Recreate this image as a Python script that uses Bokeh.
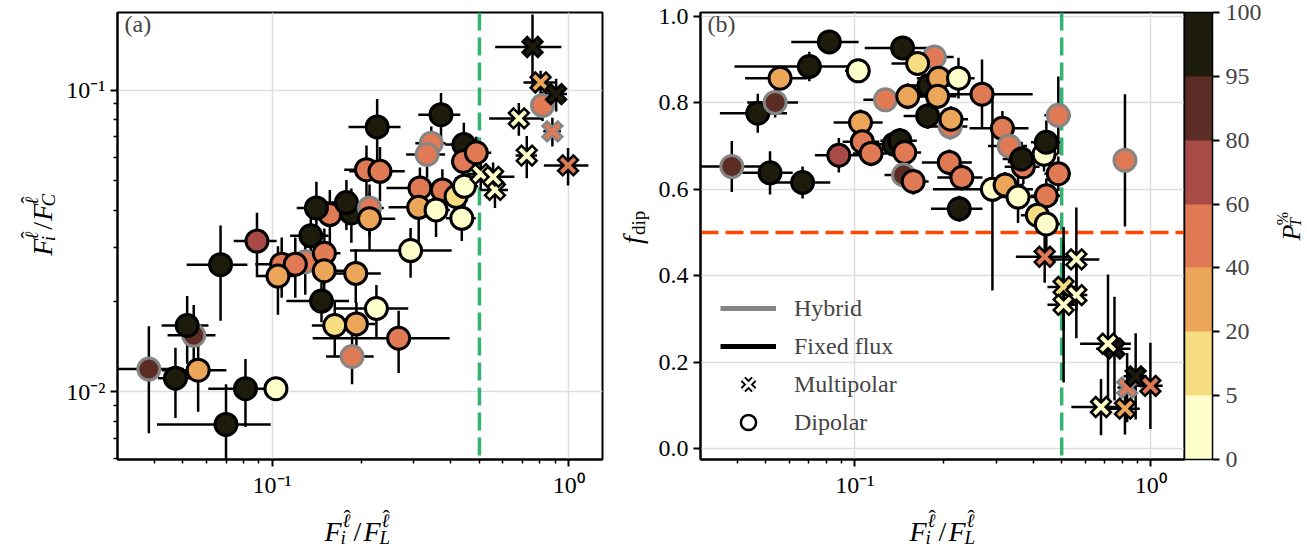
import numpy as np
from bokeh.plotting import figure
from bokeh.models import (Range1d, FixedTicker, CustomJSTickFormatter, PrintfTickFormatter,
                          Span, Label, ColorBar, LinearColorMapper, Legend, LegendItem)
from bokeh.layouts import row, column
from bokeh.core.properties import value
from bokeh.embed import file_html
from bokeh.resources import INLINE

FONT = "Liberation Serif"

# ---------------- colour scale (P_T %) ----------------
CB_BOUNDS = [0, 5, 20, 40, 60, 80, 95, 100]
CB_LABELS = [str(b) for b in CB_BOUNDS]
CB_COLORS = ["#ffffcc", "#f7dd82", "#eba65a", "#df7a55", "#a84b46", "#5c2d24", "#1d1b0b"]
HYB_EDGE = "#858585"
FIX_EDGE = "#000000"
GREEN = "#33b46e"
ORANGE = "#ff4500"

# ---------------- panel (a): dipolar ----------------
A_DIP_X = [0.0544, 0.0517, 0.0384, 0.0472, 0.0563, 0.0813, 0.103, 0.0699, 0.067, 0.0889,
           0.1293, 0.1077, 0.1197, 0.150, 0.1046, 0.1498, 0.1914, 0.1467, 0.2247, 0.1626,
           0.1924, 0.267, 0.186, 0.293, 0.135, 0.1565, 0.185, 0.141, 0.178, 0.213,
           0.213, 0.208, 0.231, 0.226, 0.344, 0.333, 0.371, 0.315, 0.375, 0.312,
           0.357, 0.417, 0.436, 0.445, 0.443, 0.442, 0.488, 0.816]
A_DIP_Y = [0.0154, 0.0166, 0.0119, 0.0111, 0.0118, 0.01025, 0.01025, 0.0078, 0.0264, 0.0316,
           0.0270, 0.0265, 0.0265, 0.0288, 0.0242, 0.0252, 0.0247, 0.0200, 0.0189, 0.0166,
           0.0168, 0.01506, 0.0131, 0.0294, 0.0329, 0.0387, 0.0392, 0.0407, 0.0424, 0.0407,
           0.0375, 0.0545, 0.0538, 0.0755, 0.0667, 0.0612, 0.0829, 0.0474, 0.0467, 0.0409,
           0.0401, 0.0444, 0.0376, 0.0480, 0.0660, 0.0580, 0.0620, 0.089]
A_DIP_XERR = [0.010, 0.0093, 0.012, 0.006, 0.0138, 0.0204, 0.004, 0.029, 0.0155, 0.0147,
              0.020, 0.020, 0.020, 0.020, 0.015, 0.025, 0.041, 0.035, 0.063, 0.0265,
              0.030, 0.130, 0.034, 0.110, 0.020, 0.020, 0.025, 0.020, 0.025, 0.025,
              0.047, 0.033, 0.049, 0.045, 0.040, 0.050, 0.060, 0.072, 0.050, 0.065,
              0.040, 0.040, 0.050, 0.050, 0.060, 0.040, 0.060, 0.050]
A_DIP_YERR = [0.004, 0.0042, 0.0046, 0.0029, 0.0032, 0.0026, 0.0008, 0.0028, 0.0092, 0.0076,
              0.006, 0.006, 0.006, 0.006, 0.0062, 0.006, 0.005, 0.003, 0.0037, 0.0034,
              0.003, 0.0035, 0.0025, 0.0055, 0.007, 0.008, 0.008, 0.009, 0.008, 0.008,
              0.008, 0.011, 0.011, 0.018, 0.009, 0.010, 0.015, 0.008, 0.008, 0.010,
              0.0075, 0.007, 0.006, 0.007, 0.012, 0.008, 0.008, 0.010]
A_DIP_PT = [88, 98, 88, 98, 30, 98, 2, 98, 98, 70,
            50, 50, 50, 50, 30, 30, 30, 98, 2, 10,
            30, 50, 50, 2, 98, 50, 98, 98, 98, 50,
            30, 50, 50, 98, 50, 50, 98, 50, 50, 30,
            2, 10, 2, 2, 98, 50, 50, 50]
A_DIP_HYB = [1, 0, 1, 0, 0, 0, 0, 0, 0, 0,
             1, 0, 0, 0, 0, 0, 0, 0, 0, 0,
             0, 0, 1, 0, 0, 0, 0, 0, 0, 1,
             0, 0, 0, 0, 1, 1, 0, 0, 0, 0,
             0, 0, 0, 0, 0, 0, 0, 1]

# ---------------- panel (a): multipolar ----------------
A_MUL_X = [0.505, 0.564, 0.556, 0.722, 0.679, 0.881, 0.995, 0.804, 0.907, 0.755]
A_MUL_Y = [0.0527, 0.0467, 0.0516, 0.0607, 0.0806, 0.073, 0.0563, 0.106, 0.097, 0.139]
A_MUL_XERR = [0.05, 0.06, 0.10, 0.06, 0.14, 0.06, 0.17, 0.10, 0.08, 0.19]
A_MUL_YERR = [0.006, 0.006, 0.006, 0.0097, 0.010, 0.008, 0.008, 0.010, 0.012, 0.039]
A_MUL_PT = [2, 2, 2, 2, 2, 50, 50, 30, 98, 98]
A_MUL_HYB = [0, 0, 0, 0, 0, 1, 0, 0, 0, 0]

# ---------------- panel (b): dipolar ----------------
B_DIP_X = [0.0384, 0.0517, 0.0666, 0.047, 0.0538, 0.0559, 0.0702, 0.082, 0.1027, 0.0883,
           0.1045, 0.106, 0.1135, 0.1358, 0.142, 0.1475, 0.146, 0.1575, 0.178, 0.145,
           0.1857, 0.163, 0.192, 0.224, 0.1269, 0.151, 0.1904, 0.1762, 0.210, 0.2113,
           0.269, 0.3152, 0.332, 0.2085, 0.230, 0.2254, 0.2917, 0.322, 0.356, 0.371,
           0.366, 0.4359, 0.4437, 0.487, 0.4437, 0.487, 0.4139, 0.4437, 0.818]
B_DIP_Y = [0.6525, 0.638, 0.6156, 0.776, 0.801, 0.857, 0.884, 0.941, 0.874, 0.6786,
           0.7545, 0.710, 0.683, 0.7043, 0.712, 0.685, 0.633, 0.618, 0.840, 0.927,
           0.906, 0.891, 0.857, 0.857, 0.807, 0.815, 0.815, 0.7696, 0.745, 0.762,
           0.820, 0.741, 0.700, 0.662, 0.627, 0.5547, 0.5998, 0.6097, 0.5818, 0.652,
           0.670, 0.681, 0.7088, 0.771, 0.585, 0.636, 0.540, 0.5196, 0.667]
B_DIP_XERR = [0.012, 0.010, 0.016, 0.012, 0.0105, 0.0133, 0.031, 0.021, 0.010, 0.015,
              0.0197, 0.015, 0.015, 0.020, 0.020, 0.020, 0.020, 0.020, 0.030, 0.037,
              0.030, 0.030, 0.030, 0.030, 0.020, 0.025, 0.030, 0.030, 0.030, 0.030,
              0.130, 0.071, 0.050, 0.040, 0.040, 0.0445, 0.108, 0.050, 0.050, 0.050,
              0.050, 0.050, 0.050, 0.050, 0.050, 0.050, 0.050, 0.050, 0.050]
B_DIP_YERR = [0.059, 0.050, 0.037, 0.045, 0.035, 0.010, 0.034, 0.010, 0.010, 0.040,
              0.030, 0.030, 0.030, 0.030, 0.030, 0.030, 0.030, 0.030, 0.030, 0.010,
              0.020, 0.020, 0.030, 0.047, 0.020, 0.030, 0.030, 0.030, 0.030, 0.030,
              0.080, 0.040, 0.040, 0.030, 0.030, 0.030, 0.234, 0.030, 0.060, 0.040,
              0.040, 0.040, 0.050, 0.090, 0.040, 0.040, 0.040, 0.060, 0.153]
B_DIP_PT = [88, 98, 98, 98, 88, 30, 98, 98, 2, 70,
            30, 50, 50, 98, 98, 50, 88, 50, 98, 98,
            50, 10, 30, 2, 50, 30, 30, 98, 50, 30,
            50, 50, 50, 50, 50, 98, 2, 30, 2, 50,
            98, 2, 98, 50, 50, 50, 10, 2, 50]
B_DIP_HYB = [1, 0, 0, 0, 1, 0, 0, 0, 0, 0,
             0, 0, 0, 0, 0, 0, 1, 0, 0, 0,
             1, 0, 0, 0, 1, 0, 0, 0, 1, 0,
             0, 0, 1, 0, 0, 0, 0, 0, 0, 0,
             0, 0, 0, 1, 0, 0, 0, 0, 1]

# ---------------- panel (b): multipolar ----------------
B_MUL_X = [0.438, 0.5604, 0.5076, 0.5604, 0.5076, 0.754, 0.717, 0.832, 0.889, 0.997, 0.679, 0.818]
B_MUL_Y = [0.4437, 0.4376, 0.374, 0.355, 0.3326, 0.231, 0.2425, 0.141, 0.167, 0.145, 0.096, 0.0923]
B_MUL_XERR = [0.088, 0.110, 0.060, 0.050, 0.060, 0.100, 0.140, 0.060, 0.080, 0.100, 0.140, 0.100]
B_MUL_YERR = [0.060, 0.120, 0.100, 0.100, 0.180, 0.120, 0.160, 0.080, 0.100, 0.100, 0.065, 0.060]
B_MUL_PT = [50, 2, 10, 2, 2, 98, 2, 50, 98, 50, 2, 30]
B_MUL_HYB = [0, 0, 0, 0, 0, 0, 0, 1, 0, 0, 0, 0]

DIVIDE_X = 0.5   # vertical dashed line
DIVIDE_Y = 0.5   # horizontal dashed line (panel b)

X_RANGE = (0.0301, 1.30)
YA_RANGE = (0.00597, 0.1808)
YB_RANGE = (-0.0254, 1.009)
YB_TICKS = [0.0, 0.2, 0.4, 0.6, 0.8, 1.0]

LEGEND_LABELS = ["Hybrid", "Fixed flux", "Multipolar", "Dipolar"]

ELL = "\u2113"
HAT = "\u02c6"


def bin_colors(pts):
    idx = np.clip(np.searchsorted(CB_BOUNDS, pts, side="right") - 1, 0, len(CB_COLORS) - 1)
    return [CB_COLORS[i] for i in idx]


def edge_colors(hyb):
    return [HYB_EDGE if h else FIX_EDGE for h in hyb]


def log_formatter():
    return CustomJSTickFormatter(code="""
const e = Math.round(Math.log10(tick));
const sup = {"-": "\u207b", "0": "\u2070", "1": "\u00b9", "2": "\u00b2", "3": "\u00b3"};
return "10" + String(e).split("").map(c => sup[c]).join("");
""")


MINOR = [m * 10.0 ** k for k in range(-4, 1) for m in range(2, 10)]
DECADES = [1e-4, 1e-3, 1e-2, 1e-1, 1.0, 10.0]


def style(p):
    p.outline_line_color = "black"
    p.outline_line_width = 2
    p.outline_line_alpha = 1
    p.background_fill_color = "white"
    p.border_fill_color = "white"
    for ax in p.axis:
        ax.axis_line_color = "black"
        ax.axis_line_width = 2
        ax.major_tick_line_color = "black"
        ax.major_tick_line_width = 2
        ax.major_tick_out = 7
        ax.major_tick_in = 0
        ax.minor_tick_line_color = "black"
        ax.minor_tick_line_width = 1.5
        ax.minor_tick_out = 4
        ax.minor_tick_in = 0
        ax.major_label_text_font = FONT
        ax.major_label_text_font_size = "24px"
        ax.major_label_text_color = "black"
        ax.major_label_standoff = 5
    for g in p.grid:
        g.grid_line_color = "#dedede"
        g.grid_line_width = 1.5


def label_fig(w, h):
    # data units of this strip are pixels: x 0..w, y 0..h (from bottom)
    f = figure(width=w, height=h, x_range=Range1d(0, w), y_range=Range1d(0, h),
               x_axis_location=None, y_axis_location=None,
               min_border=0, min_border_left=0, min_border_right=0,
               min_border_top=0, min_border_bottom=0,
               output_backend="svg", toolbar_location=None)
    f.outline_line_color = None
    f.grid.visible = False
    f.background_fill_color = "white"
    f.border_fill_color = "white"
    return f


def math_text(f, parts, ox, oy, rotated=False):
    for txt, a, d, sz, it in parts:
        x, y = (ox - d, oy + a) if rotated else (ox + a, oy + d)
        f.text(x=[x], y=[y], text=[txt], angle=(np.pi / 2 if rotated else 0.0),
               text_font=value(FONT), text_font_size=value(f"{sz}px"),
               text_font_style=value("italic" if it else "normal"),
               text_align=value("left"), text_baseline=value("alphabetic"),
               text_color="black")


def errorbars(p, xs, ys, xe, ye):
    xs, ys, xe, ye = map(np.asarray, (xs, ys, xe, ye))
    p.segment(x0=xs - xe, y0=ys, x1=xs + xe, y1=ys, line_color="black", line_width=2.5)
    p.segment(x0=xs, y0=ys - ye, x1=xs, y1=ys + ye, line_color="black", line_width=2.5)


def circles(p, xs, ys, pts, hyb):
    p.scatter(x=xs, y=ys, marker="circle", size=22, fill_color=bin_colors(pts),
              line_color=edge_colors(hyb), line_width=3)


def crosses(p, xs, ys, pts, hyb):
    fills = bin_colors(pts)
    edges = edge_colors(hyb)
    n = len(xs)
    xx = np.repeat(np.asarray(xs), 2)
    yy = np.repeat(np.asarray(ys), 2)
    sizes, lws, cols = [], [], []
    for i in range(n):
        sizes += [24, 19]
        lws += [9, 4]
        cols += [edges[i], fills[i]]
    p.scatter(x=xx, y=yy, marker="x", size=sizes, line_color=cols, line_width=lws)


TOTAL_H = 550
ROW_H = 500
TOP = 12
BOTTOM = 33
FH = ROW_H - TOP - BOTTOM
XL_H = TOTAL_H - ROW_H

# ======================= panel (a) =======================
pa = figure(width=543, height=ROW_H, x_axis_type="log", y_axis_type="log",
            x_range=Range1d(*X_RANGE), y_range=Range1d(*YA_RANGE),
            min_border_left=52, min_border_right=4, min_border_top=TOP, min_border_bottom=BOTTOM,
            output_backend="svg", toolbar_location=None)
xt = FixedTicker(ticks=DECADES, minor_ticks=MINOR)
yt = FixedTicker(ticks=DECADES, minor_ticks=MINOR)
pa.xaxis.ticker = xt
pa.xgrid.ticker = xt
pa.yaxis.ticker = yt
pa.ygrid.ticker = yt
pa.xaxis.formatter = log_formatter()
pa.yaxis.formatter = log_formatter()
style(pa)
pa.add_layout(Span(location=DIVIDE_X, dimension="height", line_color=GREEN, line_width=3.5,
                   line_dash="18 7", level="underlay"))
errorbars(pa, A_DIP_X + A_MUL_X, A_DIP_Y + A_MUL_Y, A_DIP_XERR + A_MUL_XERR, A_DIP_YERR + A_MUL_YERR)
circles(pa, A_DIP_X, A_DIP_Y, A_DIP_PT, A_DIP_HYB)
crosses(pa, A_MUL_X, A_MUL_Y, A_MUL_PT, A_MUL_HYB)
pa.add_layout(Label(x=7, y=FH - 6, x_units="screen", y_units="screen", text="(a)",
                    text_font=FONT, text_font_size="24px", text_baseline="top", text_align="left"))

# ======================= panel (b) =======================
pb = figure(width=610, height=ROW_H, x_axis_type="log",
            x_range=Range1d(*X_RANGE), y_range=Range1d(*YB_RANGE),
            min_border_left=46, min_border_right=78, min_border_top=TOP, min_border_bottom=BOTTOM,
            output_backend="svg", toolbar_location=None)
xt2 = FixedTicker(ticks=DECADES, minor_ticks=MINOR)
yt2 = FixedTicker(ticks=YB_TICKS, minor_ticks=[])
pb.xaxis.ticker = xt2
pb.xgrid.ticker = xt2
pb.yaxis.ticker = yt2
pb.ygrid.ticker = yt2
pb.xaxis.formatter = log_formatter()
pb.yaxis.formatter = PrintfTickFormatter(format="%.1f")
style(pb)
pb.add_layout(Span(location=DIVIDE_X, dimension="height", line_color=GREEN, line_width=3.5,
                   line_dash="18 7", level="underlay"))
pb.add_layout(Span(location=DIVIDE_Y, dimension="width", line_color=ORANGE, line_width=3.5,
                   line_dash="18 7", level="underlay"))
errorbars(pb, B_DIP_X + B_MUL_X, B_DIP_Y + B_MUL_Y, B_DIP_XERR + B_MUL_XERR, B_DIP_YERR + B_MUL_YERR)
circles(pb, B_DIP_X, B_DIP_Y, B_DIP_PT, B_DIP_HYB)
crosses(pb, B_MUL_X, B_MUL_Y, B_MUL_PT, B_MUL_HYB)
pb.add_layout(Label(x=7, y=FH - 6, x_units="screen", y_units="screen", text="(b)",
                    text_font=FONT, text_font_size="24px", text_baseline="top", text_align="left"))

# legend (sample glyphs sit outside the visible ranges; only the legend shows them)
OFF_X = [1e-6, 2e-6]
OFF_Y = [-9.0, -9.0]
r_h = pb.line(x=OFF_X, y=OFF_Y, line_color=HYB_EDGE, line_width=5)
r_f = pb.line(x=OFF_X, y=OFF_Y, line_color="black", line_width=5)
r_m1 = pb.scatter(x=OFF_X[:1], y=OFF_Y[:1], marker="x", line_color="black", line_width=7)
r_m2 = pb.scatter(x=OFF_X[:1], y=OFF_Y[:1], marker="x", line_color="white", line_width=3)
r_d = pb.scatter(x=OFF_X[:1], y=OFF_Y[:1], marker="circle", fill_color="white",
                 line_color="black", line_width=2.5)
legend = Legend(items=[LegendItem(label=LEGEND_LABELS[0], renderers=[r_h]),
                       LegendItem(label=LEGEND_LABELS[1], renderers=[r_f]),
                       LegendItem(label=LEGEND_LABELS[2], renderers=[r_m1, r_m2]),
                       LegendItem(label=LEGEND_LABELS[3], renderers=[r_d])],
                location=(20, 18), orientation="vertical",
                glyph_width=56, glyph_height=38, label_height=38, label_standoff=18,
                spacing=0, padding=0, margin=0, border_line_color=None,
                background_fill_alpha=0, label_text_font=FONT, label_text_font_size="24px")
pb.add_layout(legend)

# colour bar
cb = ColorBar(color_mapper=LinearColorMapper(palette=CB_COLORS, low=0, high=len(CB_COLORS)),
              ticker=FixedTicker(ticks=list(range(len(CB_LABELS)))),
              formatter=CustomJSTickFormatter(args=dict(labels=CB_LABELS),
                                              code="return labels[Math.round(tick)];"),
              orientation="vertical", width=28, margin=0, padding=0,
              bar_line_color="black", bar_line_width=1.5,
              major_tick_line_color="black", major_tick_line_width=2,
              major_tick_in=0, major_tick_out=7, minor_tick_line_color=None,
              major_label_text_font=FONT, major_label_text_font_size="24px",
              label_standoff=6, background_fill_alpha=0)
pb.add_layout(cb, "right")

# ======================= axis-label strips =======================
def ratio_label(denom):
    return [("F", 0, 0, 28, True),
            (ELL, 18, 11, 19, True), (HAT, 19, 14, 22, False), ("i", 16, -6, 19, True),
            ("/", 29, 0, 28, False),
            ("F", 39, 0, 28, True),
            (ELL, 57, 11, 19, True), (HAT, 58, 14, 22, False), (denom, 55, -6, 19, True)]


XLAB_L = ratio_label("L")
YLAB_C = ratio_label("C")
FDIP = [("f", 0, 0, 28, True), ("dip", 10, -6, 19, False)]
PT_LAB = [("P", 0, 0, 26, True), ("%", 17, 9, 16, False), ("T", 15, -4, 16, True)]

ya = label_fig(63, ROW_H)
math_text(ya, YLAB_C, 42, 228, rotated=True)
yb = label_fig(48, ROW_H)
math_text(yb, FDIP, 26, 241, rotated=True)
pt = label_fig(41, ROW_H)
math_text(pt, PT_LAB, 27, 245, rotated=True)
xl = label_fig(1305, XL_H)
math_text(xl, XLAB_L, 324, 19)
math_text(xl, XLAB_L, 909, 19)

layout = column(row(ya, pa, yb, pb, pt), xl)
open("out.html", "w").write(file_html(layout, INLINE))
